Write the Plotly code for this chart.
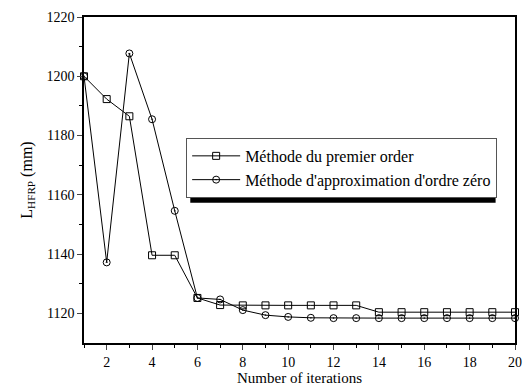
import plotly.graph_objects as go

iterations = list(range(1, 21))
premier_order = [1200, 1192.3, 1186.5, 1139.6, 1139.6, 1125.2, 1122.8, 1122.7, 1122.7, 1122.7,
                 1122.7, 1122.7, 1122.7, 1120.4, 1120.4, 1120.4, 1120.4, 1120.4, 1120.4, 1120.4]
ordre_zero = [1200, 1137.2, 1207.7, 1185.5, 1154.6, 1125.2, 1124.7, 1121.1, 1119.4, 1118.8,
              1118.5, 1118.4, 1118.4, 1118.4, 1118.4, 1118.4, 1118.4, 1118.4, 1118.4, 1118.4]
name_a = "Méthode du premier order"
name_b = "Méthode d'approximation d'ordre zéro"
x_ticks = [2, 4, 6, 8, 10, 12, 14, 16, 18, 20]
y_ticks = [1120, 1140, 1160, 1180, 1200, 1220]

font = "'Liberation Serif', 'DejaVu Serif', serif"

fig = go.Figure()
fig.add_trace(go.Scatter(x=iterations, y=premier_order, name=name_a, mode="lines+markers",
                         line=dict(color="black", width=1),
                         marker=dict(symbol="square-open", size=7, color="black", line=dict(width=1)),
                         cliponaxis=False))
fig.add_trace(go.Scatter(x=iterations, y=ordre_zero, name=name_b, mode="lines+markers",
                         line=dict(color="black", width=1),
                         marker=dict(symbol="circle-open-dot", size=7, color="black", line=dict(width=1)),
                         cliponaxis=False))

# legend drop shadow
fig.add_shape(type="rect", xref="paper", yref="paper", x0=0.2466, x1=0.955, y0=0.430, y1=0.613,
              fillcolor="black", line=dict(width=0), layer="above")

fig.update_layout(
    width=528, height=390,
    margin=dict(l=84, r=6, t=17, b=47),
    paper_bgcolor="white", plot_bgcolor="white",
    font=dict(family=font, size=14, color="black"),
    showlegend=True,
    legend=dict(x=0.237, y=0.629, xanchor="left", yanchor="top",
                bgcolor="white", bordercolor="#555", borderwidth=1, itemwidth=48,
                font=dict(family=font, size=16), tracegroupgap=0),
    xaxis=dict(range=[1, 20], tickvals=x_ticks, ticks="outside", ticklen=5, tickwidth=1,
               showline=True, linecolor="black", linewidth=1.5, mirror=True,
               showgrid=False, zeroline=False, tickfont=dict(size=14),
               minor=dict(tickvals=list(range(1, 21, 2)), ticks="outside", ticklen=3, tickcolor="black"),
               title=dict(text="Number of iterations", font=dict(size=15), standoff=0)),
    yaxis=dict(range=[1110, 1220], tickvals=y_ticks, ticks="outside", ticklen=5, tickwidth=1,
               showline=True, linecolor="black", linewidth=1.5, mirror=True,
               showgrid=False, zeroline=False, tickfont=dict(size=14),
               minor=dict(tickvals=[1130, 1150, 1170, 1190, 1210], ticks="outside", ticklen=3, tickcolor="black"),
               title=dict(text="L<sub>HFRP</sub> (mm)", font=dict(size=16), standoff=10)),
)

fig.write_html("out.html")
